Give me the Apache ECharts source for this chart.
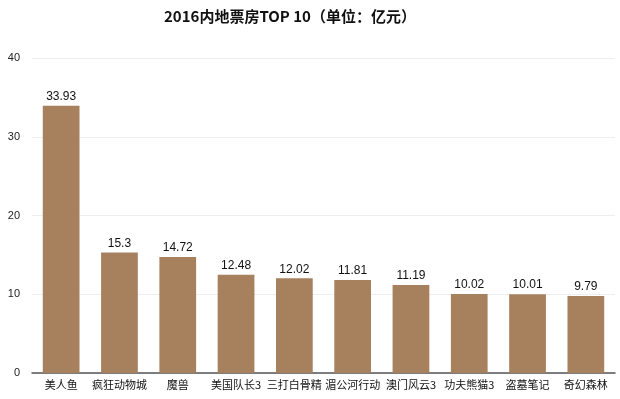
<!DOCTYPE html>
<html>
<head>
<meta charset="utf-8">
<script src="https://cdn.jsdelivr.net/npm/echarts@6/dist/echarts.min.js"></script>
<style>
  html, body { margin: 0; padding: 0; background: #fff; }
  #main { width: 620px; height: 399px; }
</style>
</head>
<body>
<div id="main"></div>
<script>
// 电影名称
var movies = ['美人鱼', '疯狂动物城', '魔兽', '美国队长3', '三打白骨精', '湄公河行动', '澳门风云3', '功夫熊猫3', '盗墓笔记', '奇幻森林'];
// 票房（亿元）
var boxOffice = [33.93, 15.3, 14.72, 12.48, 12.02, 11.81, 11.19, 10.02, 10.01, 9.79];
var yTicks = [0, 10, 20, 30, 40];

var chart = echarts.init(document.getElementById('main'));
chart.setOption({
    animation: false,
    title: {
        text: '2016内地票房TOP 10（单位：亿元）',
        left: 159,
        top: 4,
        textStyle: {
            fontFamily: 'Noto Sans CJK SC',
            fontSize: 15,
            fontWeight: 'bold',
            color: '#111'
        }
    },
    grid: {
        left: 32,
        right: 5,
        top: 58,
        bottom: 26
    },
    xAxis: {
        type: 'category',
        data: movies,
        axisLine: { lineStyle: { color: '#555', width: 1.5 } },
        axisTick: { show: false },
        axisLabel: {
            interval: 0,
            fontFamily: 'Noto Sans CJK SC',
            fontSize: 11,
            color: '#111',
            margin: 6
        }
    },
    yAxis: {
        type: 'value',
        min: yTicks[0],
        max: yTicks[yTicks.length - 1],
        interval: 10,
        axisLine: { show: false },
        axisTick: { show: false },
        axisLabel: {
            fontFamily: 'Liberation Sans',
            fontSize: 11,
            color: '#222',
            margin: 12
        },
        splitLine: { lineStyle: { color: '#eeeeee' } }
    },
    series: [{
        type: 'bar',
        data: boxOffice,
        barWidth: '63%',
        itemStyle: { color: '#a7815e' },
        label: {
            show: true,
            position: 'top',
            distance: 3,
            fontFamily: 'Liberation Sans',
            fontSize: 12,
            color: '#111'
        }
    }]
});
</script>
</body>
</html>
